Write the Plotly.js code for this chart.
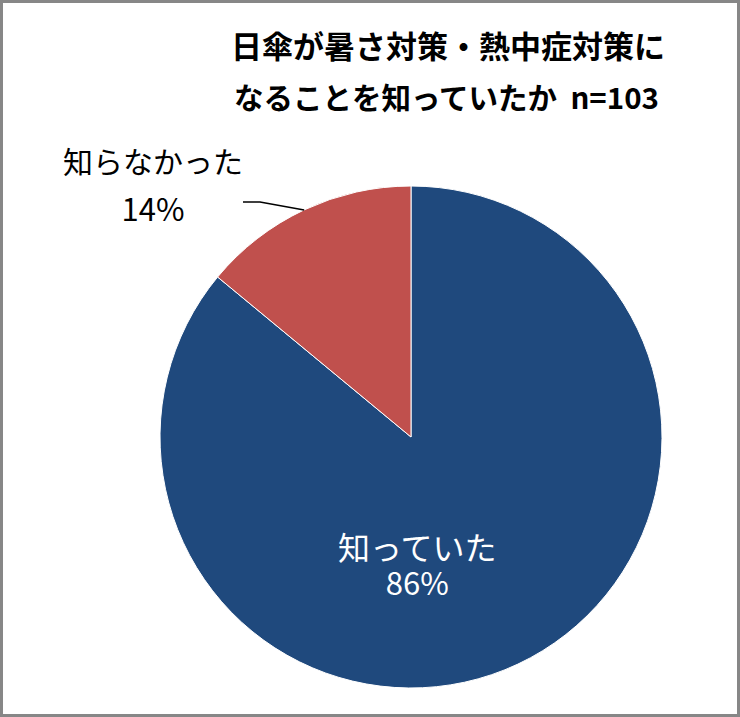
<!DOCTYPE html>
<html>
<head>
<meta charset="utf-8">
<script src="https://cdn.plot.ly/plotly-3.0.1.min.js"></script>
<style>
  html, body { margin: 0; padding: 0; background: #fff; }
  #chart { width: 740px; height: 717px; }
</style>
</head>
<body>
<div id="chart"></div>
<script>
// 日傘が暑さ対策・熱中症対策になることを知っていたか (n=103)
const labels = ["知っていた", "知らなかった"];
const values = [86, 14];
const sliceColors = ["#1F497D", "#C0504D"];
const titleLines = ["日傘が暑さ対策・熱中症対策に", "なることを知っていたか\u00A0\u00A0n=103"];

const W = 740, H = 717;
// pixel -> paper helpers (margins are 0, so paper == window)
const px = x => x / W;
const py = y => 1 - y / H;

const FONT = '"Noto Sans CJK JP", "Noto Sans", sans-serif';

// pie centre (411, 437), radius 251 px
const cx = 411, cy = 437, r = 251;

const trace = {
    type: "pie",
    labels: labels,
    values: values,
    sort: false,
    direction: "clockwise",
    rotation: 0,
    textinfo: "none",
    hoverinfo: "label+percent",
    marker: { colors: sliceColors, line: { color: "#ffffff", width: 1 } },
    domain: { x: [px(cx - r), px(cx + r)], y: [py(cy + r), py(cy - r)] },
    showlegend: false,
};

const total = values.reduce((a, b) => a + b, 0);
const pct = v => Math.round(v / total * 100) + "%";

// label + percent as one block; line spacing comes from the base size (27 -> ~35px)
const block = (name, v, s1, s2) =>
    `<span style="font-size:${s1}px">${name}</span><br><span style="font-size:${s2}px">${pct(v)}</span>`;

const annotations = [
    { text: titleLines[1], x: px(232), y: py(96), xanchor: "left",
      font: { size: 29.5, color: "#000", family: FONT, weight: "bold" } },
    { text: block(labels[0], values[0], 32, 31), x: px(417), y: py(563),
      font: { size: 27, color: "#fff", family: FONT } },
    { text: block(labels[1], values[1], 30, 31), x: px(153), y: py(184), align: "center",
      font: { size: 37, color: "#000", family: FONT } },
].map(a => Object.assign({ xref: "paper", yref: "paper", showarrow: false, xanchor: "center", yanchor: "middle" }, a));

// leader line for the small slice, ending at the arc midpoint
const midAng = (values[1] / total) * Math.PI; // half of slice angle, measured from 12 o'clock CCW
const ex = cx - r * Math.sin(midAng), ey = cy - r * Math.cos(midAng);
const leader = `M ${px(243)},${py(202)} L ${px(260)},${py(202)} L ${px(ex)},${py(ey)}`;

const layout = {
    width: W,
    height: H,
    margin: { t: 0, b: 0, l: 0, r: 0 },
    paper_bgcolor: "#ffffff",
    font: { family: FONT, color: "#000" },
    title: {
        text: titleLines[0],
        font: { size: 31, color: "#000", family: FONT, weight: "bold" },
        x: px(448), xanchor: "center", xref: "paper",
        y: 1 - 47 / H, yanchor: "middle", yref: "container",
    },
    annotations: annotations,
    shapes: [
        { type: "path", xref: "paper", yref: "paper", path: leader, line: { color: "#000", width: 1.5 } },
        { type: "rect", xref: "paper", yref: "paper", x0: px(1.5), x1: px(W - 1.5), y0: py(H - 1.5), y1: py(1.5),
          line: { color: "#878787", width: 3 } },
    ],
};

Plotly.newPlot("chart", [trace], layout, { staticPlot: true });
</script>
</body>
</html>
